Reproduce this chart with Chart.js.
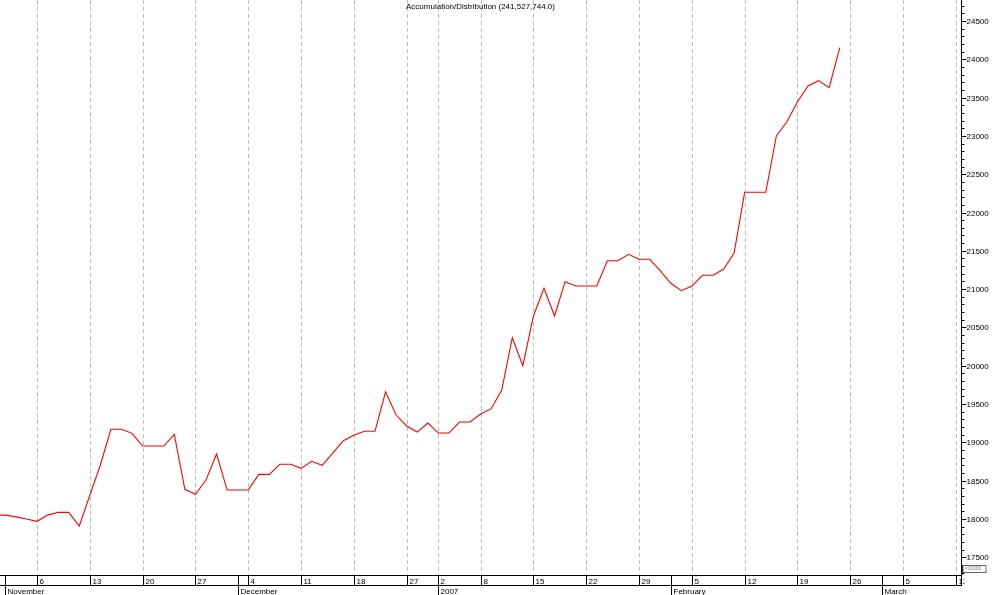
<!DOCTYPE html>
<html><head><meta charset="utf-8">
<script src="https://cdn.jsdelivr.net/npm/chart.js@4/dist/chart.umd.min.js"></script>
<style>html,body{margin:0;padding:0;background:#fff;overflow:hidden}canvas{display:block}</style>
</head><body>
<canvas id="c" width="994" height="595"></canvas>
<script>
// ---- data ----
const seriesName = 'Accumulation/Distribution';
const lastValueLabel = '241,527,744.0';
const unitLabel = '\u00d710000';
const firstDate = '2006-10-31';
const axisEndDate = '2007-03-14';
const holidays = ['2006-12-25', '2006-12-26', '2007-01-01'];
const monthNames = ['January','February','March','April','May','June','July','August','September','October','November','December'];
const yTicks = [17500, 18000, 18500, 19000, 19500, 20000, 20500, 21000, 21500, 22000, 22500, 23000, 23500, 24000, 24500];
const yMin = 17268, yMax = 24774;
// one value per trading day, from 2006-10-31 to 2007-02-23 (x10000)
const adValues = [
  18050,                                   // Oct 31
  18050, 18027, 17999,                     // Nov 1-3
  17969, 18050, 18086, 18086, 17907,       // Nov 6-10
  18308, 18704, 19170, 19170, 19117,       // Nov 13-17
  18952, 18952, 18952, 19104, 18386,       // Nov 20-24
  18321, 18508, 18847, 18377, 18377,       // Nov 27-Dec 1
  18377, 18582, 18582, 18713, 18713,       // Dec 4-8
  18660, 18752, 18700, 18860, 19021,       // Dec 11-15
  19091, 19144, 19144, 19660, 19356,       // Dec 18-22
  19213, 19134, 19252,                     // Dec 27-29
  19121, 19121, 19265, 19265,              // Jan 2-5
  19369, 19439, 19683, 20365, 20000,       // Jan 8-12
  20649, 21010, 20649, 21097, 21040,       // Jan 15-19
  21040, 21040, 21371, 21371, 21454,       // Jan 22-26
  21389, 21389, 21240, 21076, 20979,       // Jan 29-Feb 2
  21040, 21180, 21180, 21258, 21471,       // Feb 5-9
  22264, 22264, 22264, 22999, 23185,       // Feb 12-16
  23446, 23651, 23721, 23629, 24153        // Feb 19-23
];
const xMin = 0.497, xMax = 91.48;   // trading-day index range shown

// ---- trading-day calendar ----
const tradingDays = [];
(function(){
  let d = new Date(firstDate + 'T00:00:00Z');
  const end = new Date(axisEndDate + 'T00:00:00Z');
  while (d <= end) {
    const iso = d.toISOString().slice(0,10);
    const dow = d.getUTCDay();
    if (dow !== 0 && dow !== 6 && holidays.indexOf(iso) < 0) {
      tradingDays.push({iso, y: d.getUTCFullYear(), m: d.getUTCMonth(), day: d.getUTCDate(), dow, t: d.getTime()});
    }
    d = new Date(d.getTime() + 86400000);
  }
})();
const weekTicks = [], monthTicks = [];
tradingDays.forEach((td, i) => {
  const prev = tradingDays[i-1];
  if (!prev || td.dow < prev.dow || td.t - prev.t > 6*86400000) weekTicks.push({i, label: String(td.day)});
  if (!prev || td.m !== prev.m) monthTicks.push({i, label: td.m === 0 ? String(td.y) : monthNames[td.m]});
});

const FONT = '8px "Liberation Sans", Arial, sans-serif';

const gridPlugin = {
  id: 'grid',
  beforeDatasetsDraw(chart) {
    const {ctx, chartArea: a, scales: {x}} = chart;
    ctx.save();
    ctx.strokeStyle = '#bcbcbc';
    ctx.lineWidth = 1;
    ctx.setLineDash([4, 3]);
    weekTicks.forEach(t => {
      if (t.i < xMin || t.i > xMax) return;
      const px = Math.round(x.getPixelForValue(t.i)) + 0.5;
      ctx.beginPath(); ctx.moveTo(px, a.top); ctx.lineTo(px, a.bottom); ctx.stroke();
    });
    ctx.restore();
  }
};

const axesPlugin = {
  id: 'axes',
  afterDraw(chart) {
    const {ctx, chartArea: a, scales: {x, y}} = chart;
    ctx.save();
    ctx.strokeStyle = '#000'; ctx.fillStyle = '#000'; ctx.lineWidth = 1;
    // title
    ctx.font = FONT; ctx.textAlign = 'center'; ctx.textBaseline = 'middle';
    ctx.fillText(seriesName + ' (' + lastValueLabel + ')', (a.left + a.right) / 2, 7);
    // right axis
    const ax = Math.round(a.right) + 0.5;
    ctx.beginPath(); ctx.moveTo(ax, a.top); ctx.lineTo(ax, a.bottom + 11); ctx.stroke();
    for (let v = Math.ceil(yMin / 100) * 100; v <= yMax; v += 100) {
      const py = Math.round(y.getPixelForValue(v)) + 0.5;
      const len = (v % 500 === 0) ? 5 : 3;
      ctx.beginPath(); ctx.moveTo(ax, py); ctx.lineTo(ax + len, py); ctx.stroke();
    }
    ctx.textAlign = 'left'; ctx.textBaseline = 'middle';
    yTicks.forEach(v => {
      ctx.fillText(String(v), ax + 5, Math.round(y.getPixelForValue(v)) + 0.5);
    });
    // bottom band
    const b1 = Math.round(a.bottom) + 0.5, b2 = b1 + 10, b3 = chart.height;
    ctx.beginPath(); ctx.moveTo(0, b1); ctx.lineTo(ax, b1); ctx.moveTo(0, b2); ctx.lineTo(ax, b2); ctx.stroke();
    ctx.textBaseline = 'alphabetic';
    weekTicks.forEach(t => {
      if (t.i < xMin || t.i > xMax) return;
      const px = Math.round(x.getPixelForValue(t.i)) + 0.5;
      ctx.beginPath(); ctx.moveTo(px, b1); ctx.lineTo(px, b2); ctx.stroke();
      ctx.save();
      ctx.beginPath(); ctx.rect(px, b1, ax + 3 - px, 10); ctx.clip();
      ctx.fillText(t.label, px + 2, b2 - 2);
      ctx.restore();
    });
    monthTicks.forEach(t => {
      if (t.i < xMin || t.i > xMax) return;
      const px = Math.round(x.getPixelForValue(t.i)) + 0.5;
      ctx.beginPath(); ctx.moveTo(px, b1); ctx.lineTo(px, b3); ctx.stroke();
      ctx.fillText(t.label, px + 2, b3 - 1);
    });
    // unit box
    ctx.strokeStyle = '#000';
    ctx.beginPath(); ctx.moveTo(ax + 1, b1 - 10); ctx.lineTo(ax + 1, b1 - 1); ctx.stroke();
    ctx.strokeStyle = '#666';
    ctx.strokeRect(ax + 1.5, b1 - 10, 23, 7);
    ctx.fillStyle = '#777'; ctx.font = '5px "Liberation Sans", Arial, sans-serif';
    ctx.textBaseline = 'middle';
    ctx.fillText(unitLabel, ax + 3, b1 - 6.5);
    ctx.restore();
  }
};

new Chart(document.getElementById('c').getContext('2d'), {
  type: 'line',
  data: {
    datasets: [{
      label: seriesName,
      data: adValues.map((v, i) => ({x: i, y: v})),
      borderColor: '#ff0000',
      borderWidth: 1.1,
      pointRadius: 0,
      tension: 0,
      fill: false
    }]
  },
  options: {
    responsive: false,
    animation: false,
    devicePixelRatio: 1,
    layout: {padding: {left: 0, top: 0, right: 33, bottom: 20}},
    scales: {
      x: {type: 'linear', min: xMin, max: xMax, display: false},
      y: {type: 'linear', min: yMin, max: yMax, display: false}
    },
    plugins: {legend: {display: false}, tooltip: {enabled: false}, title: {display: false}}
  },
  plugins: [gridPlugin, axesPlugin]
});
</script>
</body></html>
